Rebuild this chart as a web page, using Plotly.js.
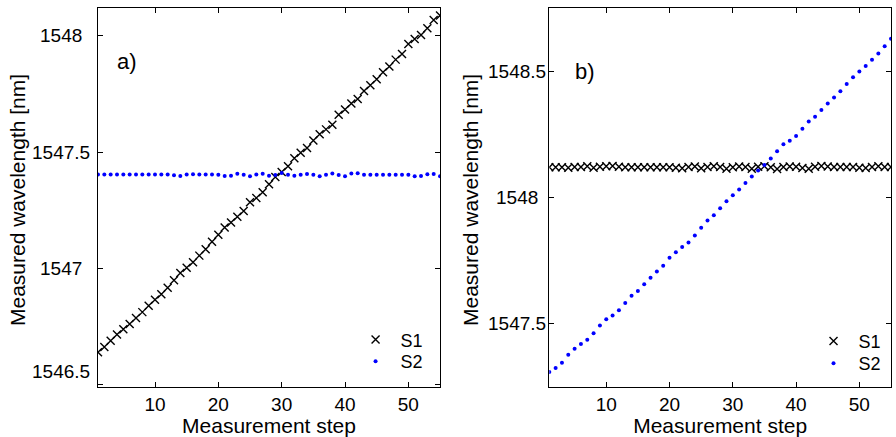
<!DOCTYPE html>
<html>
<head>
<meta charset="utf-8">
<script src="https://cdn.plot.ly/plotly-3.0.1.min.js"></script>
<style>html,body{margin:0;padding:0;background:#fff;}#chart{width:896px;height:437px;}</style>
</head>
<body>
<div id="chart"></div>
<script>
// Measurement steps
const steps = [1,2,3,4,5,6,7,8,9,10,11,12,13,14,15,16,17,18,19,20,21,22,23,24,25,26,27,28,29,30,31,32,33,34,35,36,37,38,39,40,41,42,43,44,45,46,47,48,49,50,51,52,53,54,55];

// Panel a) measured wavelengths [nm]
const aS1 = [1546.639,1546.662,1546.689,1546.716,1546.738,1546.761,1546.787,1546.812,1546.839,1546.865,
             1546.889,1546.917,1546.949,1546.980,1547.003,1547.027,1547.055,1547.082,1547.115,1547.145,
             1547.176,1547.197,1547.222,1547.247,1547.285,1547.303,1547.328,1547.362,1547.393,1547.415,
             1547.439,1547.474,1547.497,1547.518,1547.550,1547.577,1547.598,1547.618,1547.661,1547.683,
             1547.709,1547.729,1547.763,1547.788,1547.814,1547.844,1547.868,1547.898,1547.922,1547.965,
             1547.987,1548.004,1548.033,1548.068,1548.088];
const aS2 = [1547.404,1547.404,1547.404,1547.404,1547.404,1547.404,1547.404,1547.404,1547.404,1547.404,
             1547.404,1547.404,1547.401,1547.397,1547.404,1547.405,1547.404,1547.404,1547.404,1547.403,
             1547.397,1547.399,1547.407,1547.403,1547.396,1547.404,1547.407,1547.399,1547.402,1547.410,
             1547.403,1547.399,1547.403,1547.406,1547.403,1547.396,1547.403,1547.408,1547.402,1547.396,
             1547.408,1547.409,1547.403,1547.403,1547.403,1547.403,1547.403,1547.403,1547.403,1547.403,
             1547.396,1547.397,1547.405,1547.406,1547.396];

// Panel b) measured wavelengths [nm]
const bS1 = [1548.120,1548.120,1548.120,1548.118,1548.121,1548.121,1548.124,1548.118,1548.122,1548.124,
             1548.125,1548.122,1548.120,1548.120,1548.120,1548.120,1548.120,1548.120,1548.120,1548.120,
             1548.118,1548.116,1548.121,1548.123,1548.116,1548.121,1548.124,1548.121,1548.114,1548.120,
             1548.123,1548.121,1548.114,1548.122,1548.124,1548.120,1548.113,1548.121,1548.123,1548.122,
             1548.117,1548.114,1548.122,1548.125,1548.123,1548.121,1548.121,1548.121,1548.121,1548.118,
             1548.117,1548.121,1548.124,1548.121,1548.121];
const bS2 = [1547.309,1547.325,1547.346,1547.378,1547.401,1547.420,1547.437,1547.463,1547.493,1547.518,
             1547.533,1547.554,1547.582,1547.611,1547.630,1547.657,1547.682,1547.707,1547.730,1547.762,
             1547.783,1547.804,1547.822,1547.850,1547.880,1547.909,1547.930,1547.957,1547.985,1548.009,
             1548.032,1548.057,1548.083,1548.107,1548.129,1548.154,1548.183,1548.211,1548.225,1548.243,
             1548.272,1548.301,1548.320,1548.346,1548.372,1548.396,1548.421,1548.449,1548.476,1548.499,
             1548.520,1548.545,1548.570,1548.599,1548.628];

// Ticks and labels
const xTickVals = [10,20,30,40,50];
const aYTickVals = [1546.5,1547,1547.5,1548];
const aYTickText = ['1546.5','1547','1547.5','1548'];
const bYTickVals = [1547.5,1548,1548.5];
const bYTickText = ['1547.5','1548','1548.5'];
const seriesNames = ['S1','S2'];
const panelLabels = ['a)','b)'];
const xTitle = 'Measurement step';
const yTitle = 'Measured wavelength [nm]';

const FONT = 'Liberation Sans, Arial, sans-serif';
const TICKSIZE = 19;
const crossMarker = {symbol:'x-thin-open', size:8, color:'#000', line:{color:'#000', width:1.4}};
const dotMarker = {symbol:'circle', size:4, color:'#0000ff', line:{width:0}};

const traces = [
  {x:steps, y:aS1, name:seriesNames[0], type:'scatter', mode:'markers', marker:crossMarker, xaxis:'x', yaxis:'y', legend:'legend'},
  {x:steps, y:aS2, name:seriesNames[1], type:'scatter', mode:'markers', marker:dotMarker, xaxis:'x', yaxis:'y', legend:'legend2'},
  {x:steps, y:bS1, name:seriesNames[0], type:'scatter', mode:'markers', marker:crossMarker, xaxis:'x2', yaxis:'y2', legend:'legend3'},
  {x:steps, y:bS2, name:seriesNames[1], type:'scatter', mode:'markers', marker:dotMarker, xaxis:'x2', yaxis:'y2', legend:'legend4'}
];

function xAxis(domain, anchor){
  return {domain:domain, anchor:anchor, range:[1,55], tickvals:xTickVals, ticks:'inside', ticklen:5,
    tickcolor:'#000', showline:true, linecolor:'#000', linewidth:1, mirror:'allticks', showgrid:false,
    zeroline:false, tickfont:{size:TICKSIZE, color:'#000', family:FONT},
    title:{text:xTitle, font:{size:21, color:'#000', family:FONT}, standoff:3}};
}
function yAxis(range, tickvals, anchor){
  return {range:range, anchor:anchor, tickvals:tickvals, ticks:'inside', ticklen:5, tickcolor:'#000',
    showline:true, linecolor:'#000', linewidth:1, mirror:'allticks', showgrid:false, zeroline:false,
    showticklabels:false};
}

const annotations = [];
aYTickVals.forEach((v,i)=>annotations.push({xref:'paper', yref:'y', x:-0.0467, y:v, text:aYTickText[i],
  showarrow:false, xanchor:'center', yanchor:'middle', yshift:(i===0?13:0), font:{size:TICKSIZE, color:'#000', family:FONT}}));
bYTickVals.forEach((v,i)=>annotations.push({xref:'paper', yref:'y2', x:0.5284, y:v, text:bYTickText[i],
  showarrow:false, xanchor:'center', yanchor:'middle', font:{size:TICKSIZE, color:'#000', family:FONT}}));
annotations.push({xref:'paper', yref:'paper', x:-0.1021, y:0.4934, text:yTitle, textangle:-90, showarrow:false,
  xanchor:'center', yanchor:'middle', font:{size:21, color:'#000', family:FONT}});
annotations.push({xref:'paper', yref:'paper', x:0.4691, y:0.4934, text:yTitle, textangle:-90, showarrow:false,
  xanchor:'center', yanchor:'middle', font:{size:21, color:'#000', family:FONT}});
annotations.push({xref:'paper', yref:'paper', x:0.0372, y:0.860, text:panelLabels[0], showarrow:false,
  xanchor:'center', yanchor:'middle', font:{size:22, color:'#000', family:FONT}});
annotations.push({xref:'paper', yref:'paper', x:0.614, y:0.8325, text:panelLabels[1], showarrow:false,
  xanchor:'center', yanchor:'middle', font:{size:22, color:'#000', family:FONT}});

function legendAt(x, y){
  return {x:x, y:y, bgcolor:'rgba(0,0,0,0)', borderwidth:0, font:{size:18, color:'#000', family:FONT},
    xanchor:'left', yanchor:'top', itemwidth:40};
}

const layout = {
  width:896, height:437,
  margin:{l:98, r:5, t:8, b:50},
  paper_bgcolor:'#fff', plot_bgcolor:'#fff',
  font:{family:FONT, color:'#000'},
  xaxis:xAxis([0,0.4313],'y'),
  yaxis:yAxis([1546.49,1548.12], aYTickVals, 'x'),
  xaxis2:xAxis([0.5691,1],'y2'),
  yaxis2:yAxis([1547.25,1548.75], bYTickVals, 'x2'),
  legend:legendAt(0.3185, 0.1734),
  legend2:legendAt(0.3185, 0.1160),
  legend3:legendAt(0.896, 0.1697),
  legend4:legendAt(0.896, 0.1108),
  annotations:annotations,
  showlegend:true
};

Plotly.newPlot('chart', traces, layout, {staticPlot:true, displayModeBar:false});
</script>
</body>
</html>
